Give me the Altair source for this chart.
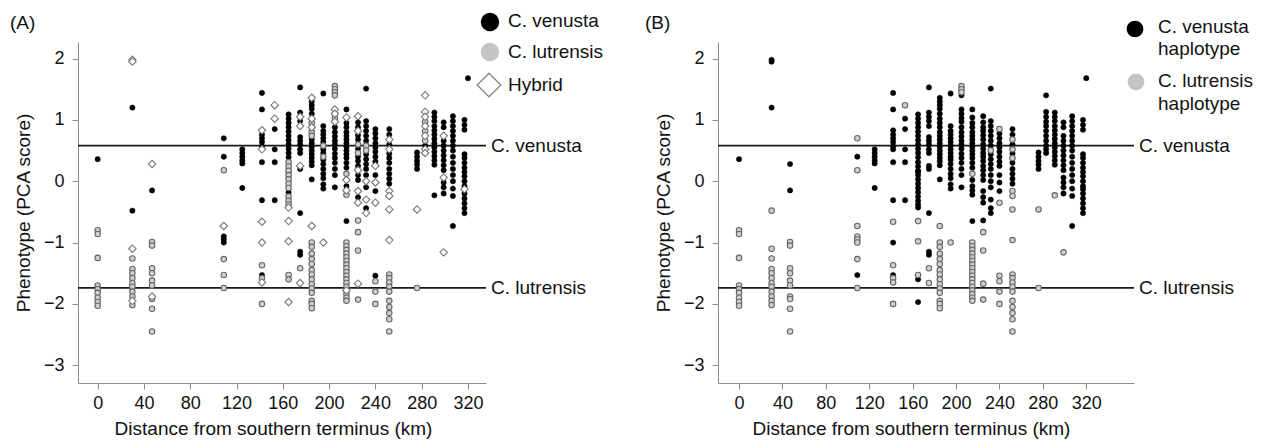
import altair as alt
import pandas as pd

# ---------------- data ----------------
sites_km = [0, 30, 47, 109, 125, 142, 153, 165, 175, 185, 195, 205, 215, 225,
            232, 240, 252, 276, 283, 291, 299, 307, 317, 320]

scores = [
    [0.36, -0.80, -0.86, -1.25, -1.70, -1.76, -1.82, -1.90, -1.97, -2.03],
    [1.98, 1.95, 1.20, -0.48, -1.10, -1.26, -1.43, -1.50, -1.58, -1.66, -1.72, -1.80, -1.88, -1.95, -2.02],
    [0.28, -0.15, -0.99, -1.05, -1.42, -1.50, -1.62, -1.70, -1.88, -1.92, -2.08, -2.45],
    [0.70, 0.40, 0.18, -0.73, -0.90, -0.95, -1.00, -1.27, -1.53, -1.74],
    [0.52, 0.46, 0.40, 0.34, 0.29, -0.11],
    [1.44, 1.17, 0.83, 0.76, 0.70, 0.64, 0.57, 0.52, 0.31, -0.31, -0.66, -1.00, -1.37, -1.53, -1.58, -1.65, -2.00],
    [1.24, 1.02, 0.85, 0.52, 0.31, -0.31],
    [1.09, 1.02, 0.95, 0.88, 0.81, 0.74, 0.67, 0.60, 0.53, 0.46, 0.39, 0.31, 0.24, 0.17, 0.10, 0.03, -0.04,
     -0.11, -0.25, -0.32, -0.38, 0.15, -0.18, -0.43, -0.65, -0.98, -1.53, -1.60, -1.97],
    [1.53, 1.12, 1.05, 0.98, 0.90, 0.72, 0.66, 0.60, 0.52, 0.46, 0.25, 0.20, -0.52, -1.15, -1.20, -1.42, -1.66],
    [1.36, 1.30, 1.24, 1.18, 1.10, 1.02, 0.95, 0.88, 0.80, 0.74, 0.68, 0.62, 0.56, 0.50, 0.44, 0.38, 0.32,
     0.26, 0.03, -0.73, -1.00, -1.07, -1.18, -1.27, -1.35, -1.45, -1.52, -1.60, -1.68, -1.75, -1.82, -1.95,
     -2.00, -2.07],
    [1.43, 0.90, 0.82, 0.76, 0.70, 0.64, 0.58, 0.52, 0.46, 0.40, 0.35, 0.28, 0.20, 0.12, 0.05, -0.05, -0.12, -1.00],
    [1.55, 1.50, 1.45, 1.40, 1.17, 1.10, 1.03, 0.97, 0.88, 0.80, 0.73, 0.66, 0.60, 0.53, 0.45, 0.38, 0.30,
     0.20, 0.10, -0.10],
    [1.17, 1.04, 0.95, 0.88, 0.80, 0.74, 0.68, 0.62, 0.56, 0.50, 0.44, 0.38, 0.30, 0.22, 0.12, 0.02, -0.08,
     -0.15, -0.22, -0.65, -1.00, -1.06, -1.12, -1.18, -1.24, -1.30, -1.36, -1.42, -1.48, -1.54, -1.60, -1.66,
     -1.72, -1.78, -1.84, -1.90, -1.95],
    [1.06, 0.96, 0.88, 0.82, 0.75, 0.68, 0.60, 0.53, 0.46, 0.40, 0.33, 0.25, 0.18, 0.10, 0.02, -0.16, -0.26,
     -0.35, -0.64, -0.83, -1.13, -1.67, -1.93],
    [1.51, 0.98, 0.90, 0.82, 0.74, 0.66, 0.58, 0.50, 0.44, 0.36, 0.28, 0.20, 0.10, 0.00, -0.10, -0.30, -0.44, -0.52],
    [0.85, 0.78, 0.70, 0.62, 0.55, 0.48, 0.40, 0.32, 0.25, 0.10, -0.02, -0.16, -0.35, -1.54, -1.63, -1.80, -2.00],
    [0.85, 0.76, 0.68, 0.60, 0.52, 0.45, 0.38, 0.30, 0.20, 0.12, 0.04, -0.04, -0.16, -0.24, -0.46, -0.96,
     -1.52, -1.58, -1.65, -1.72, -1.80, -1.95, -2.05, -2.15, -2.25, -2.45],
    [0.47, 0.40, 0.33, 0.27, 0.20, -0.46, -1.74],
    [1.40, 1.13, 1.05, 0.97, 0.90, 0.82, 0.74, 0.66, 0.58, 0.52, 0.46],
    [1.12, 1.05, 0.98, 0.90, 0.83, 0.76, 0.69, 0.62, 0.55, 0.48, 0.41, 0.34, 0.27, -0.23],
    [0.96, 0.88, 0.74, 0.66, 0.58, 0.50, 0.42, 0.34, 0.26, 0.18, 0.06, -0.02, -0.10, -0.20, -1.16],
    [1.06, 0.98, 0.90, 0.82, 0.74, 0.66, 0.58, 0.50, 0.40, 0.30, 0.20, 0.10, 0.00, -0.12, -0.24, -0.73],
    [1.00, 0.92, 0.84, 0.44, 0.38, 0.30, 0.22, 0.15, 0.08, 0.00, -0.08, -0.13, -0.20, -0.28, -0.36, -0.44, -0.52],
    [1.68],
]

# panel (A) phenotype class: V = C. venusta, L = C. lutrensis, H = hybrid
morph = [
    "VLLLLLLLLL",
    "HHVVHLLLLLLLLHL",
    "HVLLLLLLHLLL",
    "VVLHVVVLLL",
    "VVVVVV",
    "VVHVVVVHVVHHLVLHL",
    "HHVVVV",
    "VVVVVVVVVVVLLLLLLLLLLVVHHHLLH",
    "VVHVHVVVVVHVVVVLH",
    "HVVVVHLHLLVVVVVVVVVHLLLLLLLLLLLLLL",
    "VVVVVVLVVLVVVVVVVH",
    "LLLLHHLHVVVVVVVVVVVV",
    "VHVVVVVVVVVVVVLHVHLVLLLLLLLLLLLLLHLLL",
    "HVVHVVLVLVVVHVVHVHLLLHL",
    "VVVVVVLLVVVVVHVHVH",
    "VVVVVVVVHVHVHVLLL",
    "VVHVHVVVVVVVHHHHLLLLLLLLLL",
    "VVVVVHL",
    "HHHLHLHLVHH",
    "VVVVVVVVVVVVVV",
    "VVHVVVVVVVHVVVH",
    "VVVVVVVVVVVVVVVV",
    "VVVVVVVVVVVHVVVVV",
    "V",
]

# panel (B) mitochondrial haplotype: v = C. venusta, l = C. lutrensis
haplo = [
    "vlllllllll",
    "vvvllllllllllll",
    "vvllllllllll",
    "lvllllllvl",
    "vvvvvv",
    "vvvvvvvvvvlvlvlll",
    "lvvvvv",
    "vvvvvvvvvvvvvvvvvvvvvvvvlllvv",
    "vvvvvvvvvvvvvvvll",
    "vvvvvvvvvvvvvvvvvvvlllllllllllllll",
    "vvvvvvvvvvvvvvvvvl",
    "lllvvvvvvvvvvvvvvvvv",
    "vvvvvvvvvvvvvvlvvvvvlllllllllllllllll",
    "vvvvvvvvvvvvvvvvvvvllll",
    "vvvvvvvlvvvvvvvvvv",
    "lvvvvvvvvvvvlllll",
    "vvlvlvlvvvvvllllllllllllll",
    "vvvvvll",
    "vvvvvvvvvvv",
    "vvvvvvvvvvvvvl",
    "vvvvvvvvvvvvvvl",
    "vvvvvvvvvvvvvvvv",
    "vvvvvvvvvvvvvvvvv",
    "v",
]

ref_values = [0.58, -1.74]
ref_labels = ["C. venusta", "C. lutrensis"]
x_ticks = [0, 40, 80, 120, 160, 200, 240, 280, 320]
y_ticks = [-3, -2, -1, 0, 1, 2]

rows = []
for km, sc, mo, ha in zip(sites_km, scores, morph, haplo):
    assert len(sc) == len(mo) == len(ha), (km, len(sc), len(mo), len(ha))
    for s, m, h in zip(sc, mo, ha):
        rows.append({"km": km, "score": s, "morph": m, "hap": h})
df = pd.DataFrame(rows)
ref_df = pd.DataFrame({"value": ref_values, "label": ref_labels})

# ---------------- styling ----------------
FONT = "Liberation Sans"
INK = "#111111"
AXC = "#8c8c8c"
H = 341
WA, WB = 408, 416
Y_DOM = [-3.29, 2.27]
XA_DOM = [-17.0, 335.6]
XB_DOM = [-19.4, 364.0]


def x_enc(dom, title_x):
    return alt.X("km:Q", scale=alt.Scale(domain=dom, nice=False, zero=False),
                 axis=alt.Axis(values=x_ticks, title="Distance from southern terminus (km)",
                               titleX=title_x, titleY=36, tickSize=6, labelPadding=5,
                               labelFontSize=18, titleFontSize=19, domainColor=AXC,
                               tickColor=AXC, labelColor=INK, titleColor=INK,
                               titleFontWeight="normal", grid=False, labelFont=FONT,
                               titleFont=FONT))


def y_enc(field):
    return alt.Y(field, scale=alt.Scale(domain=Y_DOM, nice=False, zero=False),
                 axis=alt.Axis(values=y_ticks, title="Phenotype (PCA score)", titleX=-45,
                               titleY=H / 2, tickSize=6, labelPadding=8, labelFontSize=18,
                               titleFontSize=19, domainColor=AXC, tickColor=AXC,
                               labelColor=INK, titleColor=INK, titleFontWeight="normal",
                               grid=False, labelFont=FONT, titleFont=FONT))


def pts(field, code, style, xdom, tx):
    return alt.Chart(df).transform_filter(alt.datum[field] == code).mark_point(
        opacity=1, filled=True, **style).encode(x=x_enc(xdom, tx), y=y_enc("score:Q"))


STY_V = dict(shape="circle", size=28, fill="#000000", stroke="#000000", strokeWidth=0.5)
STY_L = dict(shape="circle", size=30, fill="#cfcfcf", stroke="#666666", strokeWidth=1.1)
STY_H = dict(shape="diamond", size=55, fill="#ffffff", stroke="#777777", strokeWidth=1.1)

one = pd.DataFrame({"a": [0]})


def legend_sym(x, y, **style):
    return alt.Chart(one).mark_point(opacity=1, filled=True, **style).encode(
        x=alt.value(x), y=alt.value(y))


def label(x, y, txt, size=19, align="left"):
    return alt.Chart(one).mark_text(text=txt, font=FONT, fontSize=size, color=INK,
                                    align=align, baseline="middle").encode(
        x=alt.value(x), y=alt.value(y))


def ref_layers(w):
    rules = alt.Chart(ref_df).mark_rule(color="#1a1a1a", strokeWidth=1.8).encode(
        y=y_enc("value:Q"))
    texts = alt.Chart(ref_df).mark_text(font=FONT, fontSize=19, color=INK, align="left",
                                        baseline="middle").encode(
        y=y_enc("value:Q"), x=alt.value(w + 5), text="label:N")
    return rules, texts


# ---------------- panel A ----------------
rA, tA = ref_layers(WA)
panelA = alt.layer(
    rA,
    pts("morph", "V", STY_V, XA_DOM, 195),
    pts("morph", "L", STY_L, XA_DOM, 195),
    pts("morph", "H", STY_H, XA_DOM, 195),
    tA,
    legend_sym(412, -20, shape="circle", size=340, fill="#000000", strokeWidth=0),
    legend_sym(412, 10, shape="circle", size=340, fill="#c4c4c4", strokeWidth=0),
    legend_sym(411, 43, shape="diamond", size=560, fill="#ffffff", stroke="#8a8a8a",
               strokeWidth=1.4),
    label(430, -21, "C. venusta"),
    label(430, 10, "C. lutrensis"),
    label(430, 43, "Hybrid"),
    label(-68, -19, "(A)"),
).properties(width=WA, height=H)

# ---------------- panel B ----------------
rB, tB = ref_layers(WB)
panelB = alt.layer(
    rB,
    pts("hap", "v", STY_V, XB_DOM, 193),
    pts("hap", "l", STY_L, XB_DOM, 193),
    tB,
    legend_sym(417, -13, shape="circle", size=280, fill="#000000", strokeWidth=0),
    legend_sym(418, 40, shape="circle", size=280, fill="#c4c4c4", strokeWidth=0),
    label(440, -15, "C. venusta"),
    label(440, 7, "haplotype"),
    label(440, 39, "C. lutrensis"),
    label(440, 62, "haplotype"),
    label(-73, -19, "(B)"),
).properties(width=WB, height=H)

chart = alt.hconcat(panelA, panelB, spacing=232, bounds="flush").properties(
    padding={"left": 2, "top": 4, "right": 5, "bottom": 5}
).configure_view(stroke=None).configure_axis(grid=False)

chart.save("out.html", embed_options={"renderer": "svg", "actions": False})
